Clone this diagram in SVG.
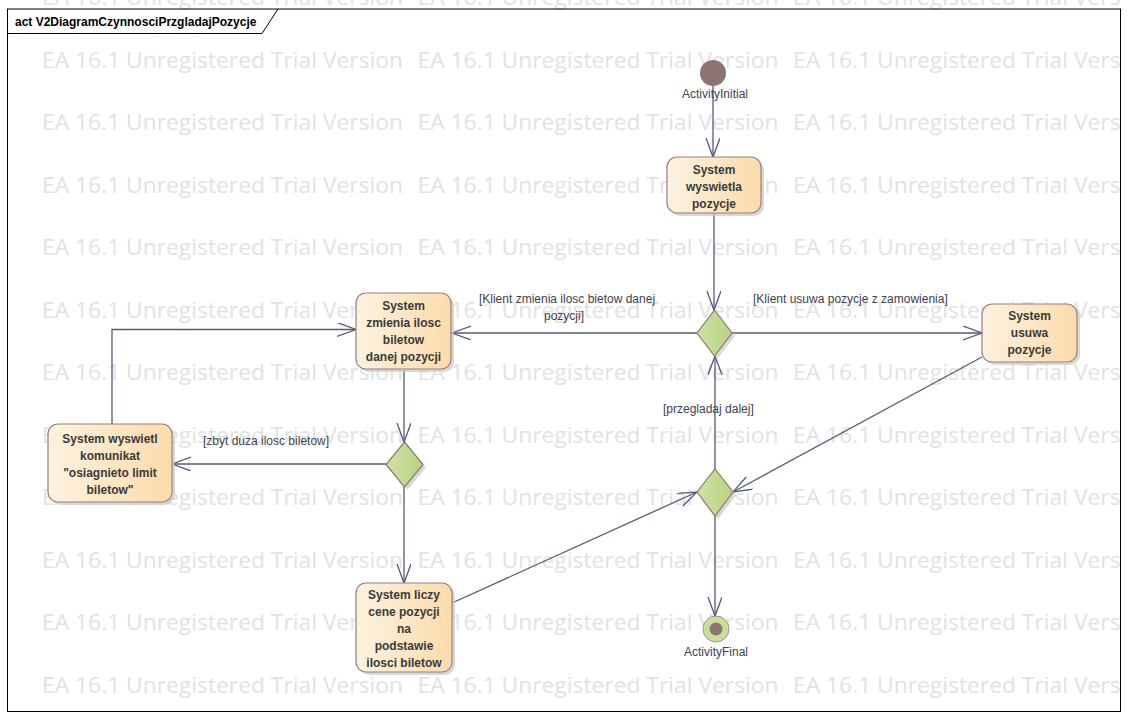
<svg xmlns="http://www.w3.org/2000/svg" width="1129" height="719" viewBox="0 0 1129 719">
<defs>
<style>
.wm{font-family:"Open Sans","Liberation Sans",Arial,sans-serif;font-size:21px;fill:#e2e2e2}
.nt{font-family:"Liberation Sans",Arial,sans-serif;font-size:12px;font-weight:bold;fill:#3a3a3a;text-anchor:middle}
.lb{font-family:"Liberation Sans",Arial,sans-serif;font-size:12px;fill:#3f4150}
.node{fill:url(#ng);stroke:#9a7e7e;stroke-width:1.2}
.shadow{fill:#c8c8c8;opacity:0.7}
.dec{fill:url(#dg);stroke:#8f7a6e;stroke-width:1.2}
.edge{fill:none;stroke:#525c7a;stroke-width:1.3;marker-end:url(#arr)}
</style>
<linearGradient id="ng" x1="0" y1="0" x2="1" y2="0">
<stop offset="0" stop-color="#fdf2e0"/>
<stop offset="1" stop-color="#fbdcaa"/>
</linearGradient>
<linearGradient id="dg" x1="0" y1="0" x2="1" y2="0">
<stop offset="0" stop-color="#cfe2a4"/>
<stop offset="1" stop-color="#b8d282"/>
</linearGradient>
<marker id="arr" markerUnits="userSpaceOnUse" markerWidth="22" markerHeight="16" refX="19" refY="7" orient="auto">
<path d="M0,0 L19,7 L0,14" fill="none" stroke="#525c7a" stroke-width="1.3"/>
</marker>
<clipPath id="fc"><rect x="0" y="0" width="1121" height="719"/></clipPath>
<g id="wmrow">
<text class="wm" x="42" y="0" textLength="361" lengthAdjust="spacingAndGlyphs">EA 16.1 Unregistered Trial Version</text>
<text class="wm" x="417.5" y="0" textLength="361" lengthAdjust="spacingAndGlyphs">EA 16.1 Unregistered Trial Version</text>
<text class="wm" x="793" y="0" textLength="361" lengthAdjust="spacingAndGlyphs">EA 16.1 Unregistered Trial Version</text>
</g>
</defs>
<rect x="0" y="0" width="1129" height="719" fill="#ffffff"/>
<g id="watermark" clip-path="url(#fc)">
<use href="#wmrow" y="5"/>
<use href="#wmrow" y="67.5"/>
<use href="#wmrow" y="130"/>
<use href="#wmrow" y="192.5"/>
<use href="#wmrow" y="255"/>
<use href="#wmrow" y="317.5"/>
<use href="#wmrow" y="380"/>
<use href="#wmrow" y="442.5"/>
<use href="#wmrow" y="505"/>
<use href="#wmrow" y="567.5"/>
<use href="#wmrow" y="630"/>
<use href="#wmrow" y="692.5"/>
</g>
<g id="frame">
<rect x="7.5" y="9" width="1113" height="702.5" fill="none" stroke="#000" stroke-width="1"/>
<path d="M7.5,33.5 H262 L278,9" fill="none" stroke="#000" stroke-width="1"/>
<text x="15" y="26" font-family="Liberation Sans,Arial,sans-serif" font-size="12" font-weight="bold" fill="#000">act V2DiagramCzynnosciPrzgladajPozycje</text>
</g>
<g id="connectors">
<path class="edge" d="M713,86 V157"/>
<path class="edge" d="M714,213 V310"/>
<path class="edge" d="M697,333 H452"/>
<path class="edge" d="M732,333 H982"/>
<path class="edge" d="M982,357 L733,492"/>
<path class="edge" d="M715,469 V356"/>
<path class="edge" d="M404,370 V442"/>
<path class="edge" d="M386,464 H172"/>
<path class="edge" d="M112,424 V329.5 H356"/>
<path class="edge" d="M404,487 V583"/>
<path class="edge" d="M452,603 L697,492"/>
<path class="edge" d="M715,516 V616"/>
<text class="lb" x="567" y="303" text-anchor="middle">[Klient zmienia ilosc bietow danej</text>
<text class="lb" x="564" y="320" text-anchor="middle">pozycji]</text>
<text class="lb" x="753" y="303">[Klient usuwa pozycje z zamowienia]</text>
<text class="lb" x="203" y="445">[zbyt duza ilosc biletow]</text>
<text class="lb" x="663" y="413">[przegladaj dalej]</text>
</g>
<g id="initial">
<circle cx="713" cy="73" r="13" fill="#8c7474"/>
<text class="lb" x="715" y="98" text-anchor="middle">ActivityInitial</text>
</g>
<g id="wyswietla">
<rect class="shadow" x="670" y="160" width="94" height="56" rx="10"/>
<rect class="node" x="667" y="157" width="94" height="56" rx="10"/>
<text class="nt" x="714" y="174">System</text>
<text class="nt" x="714" y="191">wyswietla</text>
<text class="nt" x="714" y="208">pozycje</text>
</g>
<g id="decision1">
<path class="shadow" d="M717,313 L735,336 L717,359 L700,336 Z"/>
<path class="dec" d="M714.5,310 L732,333 L714.5,356 L697,333 Z"/>
</g>
<g id="zmienia">
<rect class="shadow" x="359" y="296" width="95" height="76" rx="10"/>
<rect class="node" x="356" y="293" width="95" height="76" rx="10"/>
<text class="nt" x="403.5" y="310">System</text>
<text class="nt" x="403.5" y="327">zmienia ilosc</text>
<text class="nt" x="403.5" y="344">biletow</text>
<text class="nt" x="403.5" y="361">danej pozycji</text>
</g>
<g id="usuwa">
<rect class="shadow" x="985" y="307" width="95" height="58" rx="10"/>
<rect class="node" x="982" y="304" width="95" height="58" rx="10"/>
<text class="nt" x="1029.5" y="320">System</text>
<text class="nt" x="1029.5" y="337">usuwa</text>
<text class="nt" x="1029.5" y="354">pozycje</text>
</g>
<g id="komunikat">
<rect class="shadow" x="51" y="427" width="124" height="78" rx="10"/>
<rect class="node" x="48" y="424" width="124" height="78" rx="10"/>
<text class="nt" x="110" y="443">System wyswietl</text>
<text class="nt" x="110" y="460">komunikat</text>
<text class="nt" x="110" y="477">"osiagnieto limit</text>
<text class="nt" x="110" y="494">biletow"</text>
</g>
<g id="decision2">
<path class="shadow" d="M407.5,445 L426,467.5 L407.5,490 L389,467.5 Z"/>
<path class="dec" d="M404.5,442 L423,464.5 L404.5,487 L386,464.5 Z"/>
</g>
<g id="merge">
<path class="shadow" d="M718,472 L736,495 L718,519 L700,495 Z"/>
<path class="dec" d="M715,469 L733,492 L715,516 L697,492 Z"/>
</g>
<g id="liczy">
<rect class="shadow" x="359" y="586" width="96" height="89" rx="10"/>
<rect class="node" x="356" y="583" width="96" height="89" rx="10"/>
<text class="nt" x="404" y="599">System liczy</text>
<text class="nt" x="404" y="616">cene pozycji</text>
<text class="nt" x="404" y="633">na</text>
<text class="nt" x="404" y="650">podstawie</text>
<text class="nt" x="404" y="667">ilosci biletow</text>
</g>
<g id="final">
<circle cx="716" cy="629" r="13" fill="#c9de9c" stroke="#a89090" stroke-width="1"/>
<circle cx="716" cy="629" r="6.5" fill="#8c7474"/>
<text class="lb" x="716" y="656" text-anchor="middle">ActivityFinal</text>
</g>
</svg>
